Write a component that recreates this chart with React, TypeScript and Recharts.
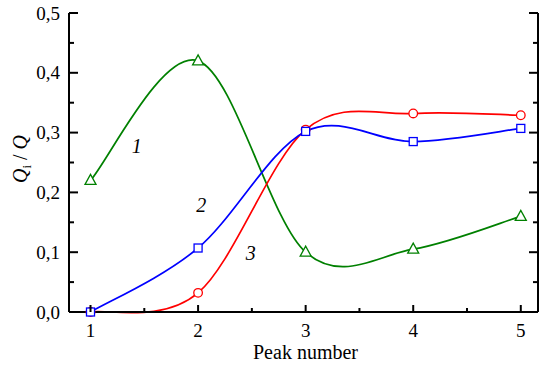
import React from 'react';
import { LineChart, Line, XAxis, YAxis, ReferenceDot } from 'recharts';

const peaks = [1, 2, 3, 4, 5];
const curve1 = [0.22, 0.42, 0.1, 0.105, 0.16];
const curve2 = [0.0, 0.107, 0.302, 0.285, 0.307];
const curve3 = [0.0, 0.032, 0.305, 0.332, 0.329];

const xTicks = [1, 1.5, 2, 2.5, 3, 3.5, 4, 4.5, 5];
const yTicks = [0, 0.05, 0.1, 0.15, 0.2, 0.25, 0.3, 0.35, 0.4, 0.45, 0.5];
const yMajor = [0, 0.1, 0.2, 0.3, 0.4, 0.5];

const curveLabels = [
  { text: '1', x: 1.43, y: 0.276 },
  { text: '2', x: 2.03, y: 0.178 },
  { text: '3', x: 2.49, y: 0.098 },
];

const data = peaks.map((p, i) => ({ peak: p, c1: curve1[i], c2: curve2[i], c3: curve3[i] }));

const FONT = "'Liberation Serif', 'DejaVu Serif', serif";
const TXT: React.CSSProperties = { fontFamily: FONT };
const GREEN = '#008000';
const BLUE = '#0000ff';
const RED = '#ff0000';

// Uniform Catmull-Rom curve factory (d3-curve compatible)
const catmullRom = (context: any) => {
  let pts: [number, number][] = [];
  return {
    areaStart() {},
    areaEnd() {},
    lineStart() {
      pts = [];
    },
    point(x: number, y: number) {
      pts.push([+x, +y]);
    },
    lineEnd() {
      const n = pts.length;
      if (n === 0) return;
      context.moveTo(pts[0][0], pts[0][1]);
      if (n === 1) return;
      for (let i = 0; i < n - 1; i++) {
        const p0 = pts[Math.max(i - 1, 0)];
        const p1 = pts[i];
        const p2 = pts[i + 1];
        const p3 = pts[Math.min(i + 2, n - 1)];
        const c1x = p1[0] + (p2[0] - p0[0]) / 6;
        const c1y = p1[1] + (p2[1] - p0[1]) / 6;
        const c2x = p2[0] - (p3[0] - p1[0]) / 6;
        const c2y = p2[1] - (p3[1] - p1[1]) / 6;
        context.bezierCurveTo(c1x, c1y, c2x, c2y, p2[0], p2[1]);
      }
    },
  };
};

const isMajorX = (v: number) => Math.abs(v - Math.round(v)) < 1e-6;
const isMajorY = (v: number) => yMajor.some((m) => Math.abs(m - v) < 1e-6);
const fmt = (v: number) => v.toFixed(1).replace('.', ',');

const BottomTick = (props: any) => {
  const { x, y, payload } = props;
  const v = payload.value;
  const major = isMajorX(v);
  return (
    <g>
      <line x1={x} x2={x} y1={y} y2={y - (major ? 7 : 4)} stroke="#000" strokeWidth={2} />
      {major && (
        <text x={x} y={y + 25} textAnchor="middle" fontSize={19} style={TXT} fill="#000">
          {v}
        </text>
      )}
    </g>
  );
};

const TopTick = (props: any) => {
  const { x, y, payload } = props;
  const major = isMajorX(payload.value);
  return <line x1={x} x2={x} y1={y} y2={y + (major ? 7 : 4)} stroke="#000" strokeWidth={2} />;
};

const LeftTick = (props: any) => {
  const { x, y, payload } = props;
  const v = payload.value;
  const major = isMajorY(v);
  return (
    <g>
      <line x1={x} x2={x + (major ? 9 : 5)} y1={y} y2={y} stroke="#000" strokeWidth={2} />
      {major && (
        <text x={x - 9} y={y + 6.5} textAnchor="end" fontSize={19} style={TXT} fill="#000">
          {fmt(v)}
        </text>
      )}
    </g>
  );
};

const RightTick = (props: any) => {
  const { x, y, payload } = props;
  const major = isMajorY(payload.value);
  return <line x1={x} x2={x - (major ? 9 : 5)} y1={y} y2={y} stroke="#000" strokeWidth={2} />;
};

const TriDot = (props: any) => {
  const { cx, cy, index } = props;
  if (cx == null || cy == null) return <g key={`t${index}`} />;
  const w = 5.5;
  const h = 5;
  return (
    <polygon
      key={`t${index}`}
      points={`${cx - w},${cy + h * 0.8} ${cx + w},${cy + h * 0.8} ${cx},${cy - h * 1.2}`}
      fill="#fff"
      stroke={GREEN}
      strokeWidth={1.3}
    />
  );
};

const SqDot = (props: any) => {
  const { cx, cy, index } = props;
  if (cx == null || cy == null) return <g key={`s${index}`} />;
  return (
    <rect key={`s${index}`} x={cx - 4} y={cy - 4} width={8} height={8} fill="#fff" stroke={BLUE} strokeWidth={1.3} />
  );
};

const CircDot = (props: any) => {
  const { cx, cy, index } = props;
  if (cx == null || cy == null) return <g key={`c${index}`} />;
  return <circle key={`c${index}`} cx={cx} cy={cy} r={4.3} fill="#fff" stroke={RED} strokeWidth={1.3} />;
};

const YTitle = () => (
  <text transform="translate(27,159) rotate(-90)" textAnchor="middle" fontSize={20} style={TXT} fill="#000">
    <tspan fontStyle="italic">Q</tspan>
    <tspan fontSize={13} dy={4}>i</tspan>
    <tspan dy={-4}> / </tspan>
    <tspan fontStyle="italic">Q</tspan>
  </text>
);

const XTitle = (props: any) => {
  const vb = props.viewBox || {};
  const cx = (vb.x ?? 69) + (vb.width ?? 469) / 2;
  return (
    <text x={cx + 2} y={359} textAnchor="middle" fontSize={20} style={TXT} fill="#000">
      Peak number
    </text>
  );
};

const CurveLabel = (props: any) => {
  const vb = props.viewBox || {};
  const x = vb.cx ?? vb.x;
  const y = vb.cy ?? vb.y;
  return (
    <text x={x} y={y + 6.5} textAnchor="middle" fontSize={20} fontStyle="italic" style={TXT} fill="#000">
      {props.value}
    </text>
  );
};

export default function App() {
  return (
    <div style={{ position: 'absolute', left: 0, top: 0, width: 539, height: 367, background: '#fff', fontFamily: FONT }}>
      <LineChart width={539} height={367} data={data} margin={{ top: 13, right: 0, bottom: 0, left: 0 }}>
        <XAxis
          dataKey="peak"
          type="number"
          domain={[0.8, 5.16]}
          ticks={xTicks}
          interval={0}
          height={55}
          tickSize={0}
          tickMargin={0}
          tickLine={false}
          axisLine={{ stroke: '#000', strokeWidth: 2 }}
          tick={<BottomTick />}
          label={<XTitle />}
        />
        <XAxis
          xAxisId="top"
          orientation="top"
          dataKey="peak"
          type="number"
          domain={[0.8, 5.16]}
          allowDataOverflow
          ticks={xTicks}
          interval={0}
          height={0}
          tickSize={0}
          tickMargin={0}
          tickLine={false}
          axisLine={{ stroke: '#000', strokeWidth: 2 }}
          tick={<TopTick />}
        />
        <YAxis
          type="number"
          domain={[0, 0.5]}
          ticks={yTicks}
          interval={0}
          width={69}
          tickSize={0}
          tickMargin={0}
          tickLine={false}
          axisLine={{ stroke: '#000', strokeWidth: 2 }}
          tick={<LeftTick />}
          label={<YTitle />}
        />
        <YAxis
          yAxisId="right"
          orientation="right"
          type="number"
          domain={[0, 0.5]}
          allowDataOverflow
          ticks={yTicks}
          interval={0}
          width={1}
          tickSize={0}
          tickMargin={0}
          tickLine={false}
          axisLine={{ stroke: '#000', strokeWidth: 2 }}
          tick={<RightTick />}
        />
        <Line type={catmullRom as any} dataKey="c1" stroke={GREEN} strokeWidth={1.7} dot={(p: any) => <TriDot key={`t${p.index}`} {...p} />} isAnimationActive={false} />
        <Line type={catmullRom as any} dataKey="c3" stroke={RED} strokeWidth={1.7} dot={(p: any) => <CircDot key={`c${p.index}`} {...p} />} isAnimationActive={false} />
        <Line type={catmullRom as any} dataKey="c2" stroke={BLUE} strokeWidth={1.7} dot={(p: any) => <SqDot key={`s${p.index}`} {...p} />} isAnimationActive={false} />
        {curveLabels.map((l) => (
          <ReferenceDot
            key={l.text}
            x={l.x}
            y={l.y}
            r={0}
            stroke="none"
            fill="none"
            label={<CurveLabel value={l.text} />}
          />
        ))}
      </LineChart>
    </div>
  );
}
